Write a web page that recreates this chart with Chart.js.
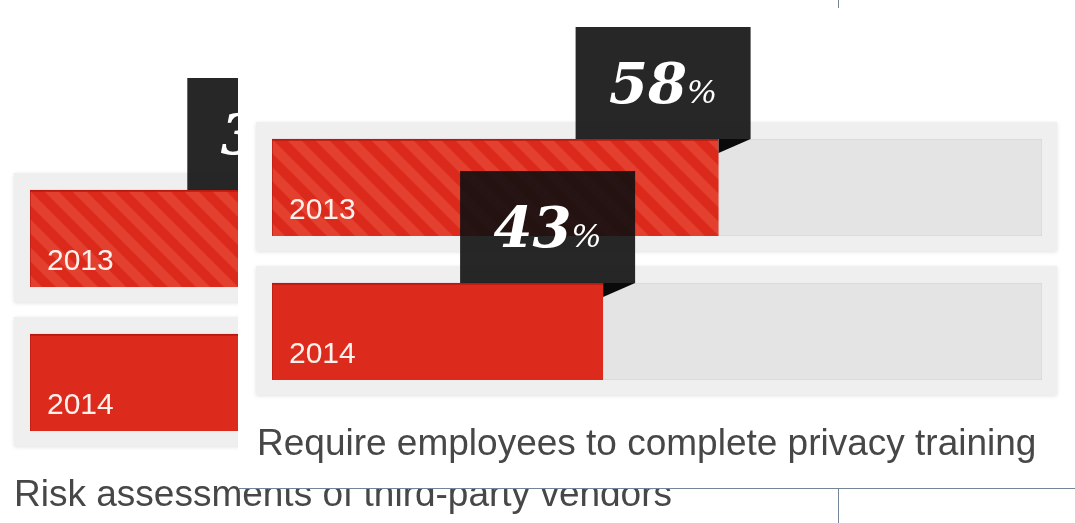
<!DOCTYPE html>
<html>
<head>
<meta charset="utf-8">
<script src="https://cdn.jsdelivr.net/npm/chart.js@4.4.1/dist/chart.umd.min.js"></script>
<style>
  html, body { margin: 0; padding: 0; background: #fff; }
  #stage { position: relative; width: 1075px; height: 523px; overflow: hidden; background: #fff; }
  #backPanel { position: absolute; left: 0; top: 0; width: 1075px; height: 523px; }
  #frontPanel { position: absolute; left: 238px; top: 0; width: 837px; height: 488px; background: #fff; border-bottom: 1px solid #74859a; }
  .caption { position: absolute; font-family: "Liberation Sans", Arial, sans-serif; font-size: 37px; line-height: 37px; color: #474747; white-space: nowrap; }
  .rule { position: absolute; width: 1px; background: #74859a; }
</style>
</head>
<body>
<div id="stage">
  <div id="backPanel">
    <canvas id="vendorChart" width="1075" height="523"></canvas>
    <div class="caption" id="vendorCaption" style="left:14px; top:475px;"></div>
  </div>
  <div class="rule" style="left:838px; top:489px; height:34px;"></div>
  <div id="frontPanel">
    <canvas id="trainingChart" width="837" height="488"></canvas>
    <div class="caption" id="trainingCaption" style="left:19px; top:424px;"></div>
  </div>
  <div class="rule" style="left:838px; top:0; height:8px;"></div>
</div>
<script>
// Share of companies, by survey year
const years = ['2013', '2014'];
const trainingValues = [58, 43];
const vendorValues = [39, 48];
const trackValues = [100, 100];
const trainingCaption = 'Require employees to complete privacy training';
const vendorCaption = 'Risk assessments of third-party vendors';

document.getElementById('trainingCaption').textContent = trainingCaption;
document.getElementById('vendorCaption').textContent = vendorCaption;

// diagonal stripes for the older year
function stripePattern(ctx) {
  const p = 28;
  const c = document.createElement('canvas');
  c.width = p;
  c.height = p;
  const g = c.getContext('2d');
  g.fillStyle = '#db2a1c';
  g.fillRect(0, 0, p, p);
  g.strokeStyle = 'rgba(240, 92, 70, 0.45)';
  g.lineWidth = 10;
  for (let k = -1; k <= 2; k++) {
    g.beginPath();
    g.moveTo(k * p - p, -p);
    g.lineTo(k * p + 2 * p, 2 * p);
    g.stroke();
  }
  return ctx.createPattern(c, 'repeat');
}

// light grey frame behind each track
const trackFrames = {
  id: 'trackFrames',
  beforeDatasetsDraw(chart) {
    const ctx = chart.ctx;
    const area = chart.chartArea;
    ctx.save();
    chart.getDatasetMeta(1).data.forEach(bar => {
      const top = bar.y - bar.height / 2 - 17;
      ctx.shadowColor = 'rgba(0,0,0,0.12)';
      ctx.shadowBlur = 4;
      ctx.shadowOffsetY = 1;
      ctx.fillStyle = '#efefef';
      ctx.fillRect(area.left - 16, top, area.width + 31, bar.height + 32);
    });
    ctx.restore();
  }
};

// year inside the bar, value tag above the bar end
const barLabels = {
  id: 'barLabels',
  afterDatasetsDraw(chart) {
    const ctx = chart.ctx;
    const bars = chart.getDatasetMeta(0).data;
    const labels = chart.data.labels;
    const values = chart.data.datasets[0].data;
    ctx.save();
    ctx.textBaseline = 'alphabetic';
    bars.forEach((bar, i) => {
      const bottom = bar.y + bar.height / 2;
      ctx.fillStyle = '#fff1ec';
      ctx.font = '30px "Liberation Sans", Arial, sans-serif';
      ctx.fillText(labels[i], bar.base + 17, bottom - 17);
    });
    bars.forEach((bar, i) => {
      const top = bar.y - bar.height / 2;
      const right = bar.x + 32;
      const left = right - 175;
      const boxTop = top - 112;
      ctx.fillStyle = 'rgba(15, 15, 17, 0.9)';
      ctx.fillRect(left, boxTop, 175, 112);
      // folded corner under the tag
      ctx.fillStyle = '#0a0a0a';
      ctx.beginPath();
      ctx.moveTo(bar.x, top);
      ctx.lineTo(right, top);
      ctx.lineTo(bar.x, top + 14);
      ctx.closePath();
      ctx.fill();

      const num = String(values[i]);
      ctx.font = 'italic bold 56px "DejaVu Serif", serif';
      const wNum = ctx.measureText(num).width;
      ctx.font = 'italic 32px "DejaVu Serif", serif';
      const wPct = ctx.measureText('%').width;
      const x = left + (175 - wNum - wPct) / 2;
      const y = boxTop + 76;
      ctx.fillStyle = '#ffffff';
      ctx.font = 'italic bold 56px "DejaVu Serif", serif';
      ctx.fillText(num, x, y);
      ctx.font = 'italic 32px "DejaVu Serif", serif';
      ctx.fillText('%', x + wNum, y);
    });
    ctx.restore();
  }
};

function makeChart(id, values, padding) {
  const ctx = document.getElementById(id).getContext('2d');
  const redFill = [stripePattern(ctx), '#dc2b1d'];
  return new Chart(ctx, {
    type: 'bar',
    data: {
      labels: years,
      datasets: [
        {
          data: values,
          backgroundColor: redFill,
          borderColor: '#b91a10',
          borderWidth: { top: 2, left: 1, right: 0, bottom: 0 },
          borderSkipped: false,
          barThickness: 97
        },
        {
          data: trackValues,
          backgroundColor: '#e4e4e4',
          borderColor: '#d8d8d8',
          borderWidth: 1,
          borderSkipped: false,
          barThickness: 97
        }
      ]
    },
    options: {
      indexAxis: 'y',
      responsive: false,
      animation: false,
      devicePixelRatio: 1,
      events: [],
      datasets: { bar: { grouped: false } },
      layout: { padding: padding },
      scales: {
        x: { min: 0, max: 100, display: false },
        y: { display: false }
      },
      plugins: {
        legend: { display: false },
        tooltip: { enabled: false }
      }
    },
    plugins: [trackFrames, barLabels]
  });
}

makeChart('vendorChart', vendorValues, { left: 30, right: 275, top: 166.5, bottom: 68.5 });
makeChart('trainingChart', trainingValues, { left: 34, right: 33, top: 115.5, bottom: 84.5 });
</script>
</body>
</html>
